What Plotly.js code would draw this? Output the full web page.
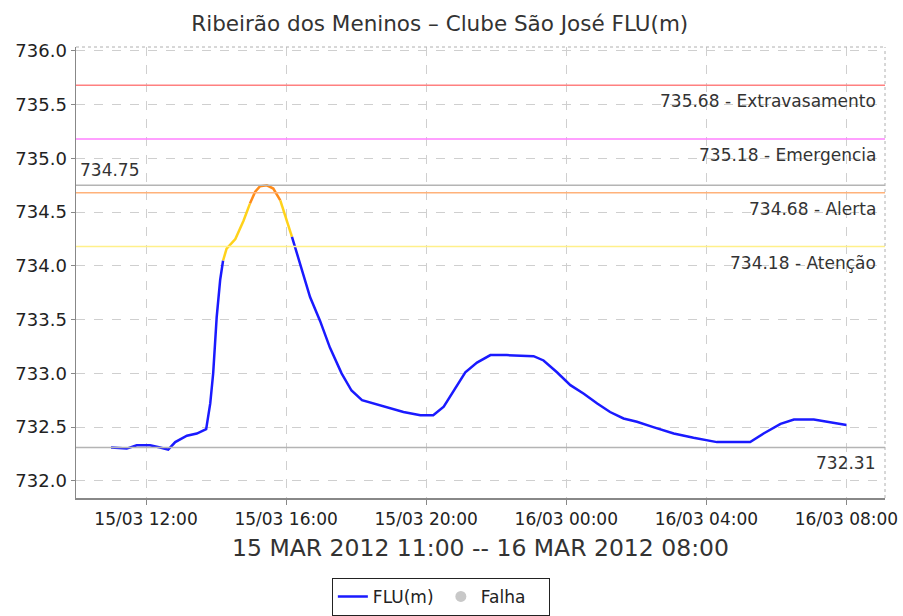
<!DOCTYPE html>
<html>
<head>
<meta charset="utf-8">
<script src="https://cdn.plot.ly/plotly-3.0.1.min.js"></script>
<style>html,body{margin:0;padding:0;background:#fff;}#chart{width:903px;height:616px;}</style>
</head>
<body>
<div id="chart"></div>
<script>
// ---- data ----
const times = [
  "2012-03-15 11:00","2012-03-15 11:27","2012-03-15 11:44","2012-03-15 12:07","2012-03-15 12:24",
  "2012-03-15 12:38","2012-03-15 12:50","2012-03-15 13:10","2012-03-15 13:27","2012-03-15 13:43",
  "2012-03-15 13:50","2012-03-15 13:55","2012-03-15 14:01","2012-03-15 14:07","2012-03-15 14:12",
  "2012-03-15 14:18","2012-03-15 14:33","2012-03-15 14:47","2012-03-15 14:58","2012-03-15 15:07",
  "2012-03-15 15:15","2012-03-15 15:27","2012-03-15 15:38","2012-03-15 15:50","2012-03-15 16:01",
  "2012-03-15 16:10","2012-03-15 16:24","2012-03-15 16:41","2012-03-15 16:58","2012-03-15 17:15",
  "2012-03-15 17:35","2012-03-15 17:52","2012-03-15 18:10","2012-03-15 18:41","2012-03-15 19:21",
  "2012-03-15 19:50","2012-03-15 20:12","2012-03-15 20:30","2012-03-15 20:47","2012-03-15 21:07",
  "2012-03-15 21:27","2012-03-15 21:50","2012-03-15 22:18","2012-03-15 23:04","2012-03-15 23:21",
  "2012-03-15 23:44","2012-03-16 00:07","2012-03-16 00:30","2012-03-16 00:53","2012-03-16 01:15",
  "2012-03-16 01:38","2012-03-16 02:01","2012-03-16 02:29","2012-03-16 03:04","2012-03-16 03:38",
  "2012-03-16 04:18","2012-03-16 05:15","2012-03-16 05:38","2012-03-16 06:07","2012-03-16 06:30",
  "2012-03-16 07:04","2012-03-16 07:27","2012-03-16 08:00"
];
const levels = [
  732.31,732.30,732.33,732.33,732.31,
  732.29,732.36,732.42,732.44,732.48,
  732.72,733.00,733.52,733.87,734.05,
  734.16,734.25,734.42,734.58,734.69,
  734.74,734.75,734.72,734.61,734.42,
  734.27,734.02,733.71,733.49,733.24,
  733.00,732.84,732.75,732.70,732.64,
  732.61,732.61,732.69,732.84,733.01,
  733.10,733.17,733.17,733.16,733.12,
  733.01,732.89,732.81,732.72,732.64,
  732.58,732.55,732.50,732.44,732.40,
  732.36,732.36,732.44,732.53,732.57,
  732.57,732.55,732.52
];
const thresholdValues = [735.68, 735.18, 734.68, 734.18];
const thresholdNames = ["Extravasamento", "Emergencia", "Alerta", "Atenção"];
const maxValue = 734.75;
const minValue = 732.31;
const tickTimes = ["2012-03-15 12:00","2012-03-15 16:00","2012-03-15 20:00","2012-03-16 00:00","2012-03-16 04:00","2012-03-16 08:00"];
const tickLabels = ["15/03 12:00","15/03 16:00","15/03 20:00","16/03 00:00","16/03 04:00","16/03 08:00"];
const yTicks = [732.0,732.5,733.0,733.5,734.0,734.5,735.0,735.5,736.0];

// ---- styling ----
const thresholdColors = ["#ff8080", "#ff80ff", "#ffb27a", "#fff08a"];
const segments = [ // [startIndex, endIndex, color]
  [0, 14, "#1a1aff"],
  [14, 18, "#ffd21a"],
  [18, 23, "#ff8c1a"],
  [23, 25, "#ffd21a"],
  [25, times.length - 1, "#1a1aff"]
];
const font = "DejaVu Sans, Verdana, sans-serif";

const traces = segments.map((s, i) => ({
  type: "scatter", mode: "lines",
  x: times.slice(s[0], s[1] + 1),
  y: levels.slice(s[0], s[1] + 1),
  line: {color: s[2], width: 2.5},
  name: "FLU(m)",
  showlegend: i === 0,
  hoverinfo: "x+y"
}));
traces.push({
  type: "scatter", mode: "markers",
  x: [null], y: [null], name: "Falha",
  marker: {color: "#c8c8c8", size: 11, symbol: "circle"},
  showlegend: true
});

const shapes = [];
const annotations = [];
const annFont = {family: font, size: 17, color: "#333"};
thresholdValues.forEach((v, i) => {
  shapes.push({type: "line", xref: "paper", yref: "y", x0: 0, x1: 1, y0: v, y1: v,
    line: {color: thresholdColors[i], width: 1.5}});
  annotations.push({xref: "paper", yref: "y", x: 1, y: v, xanchor: "right", yanchor: "top",
    xshift: -7, yshift: -4, showarrow: false, text: v.toFixed(2) + " - " + thresholdNames[i],
    font: annFont});
});
shapes.push({type: "line", xref: "paper", yref: "y", x0: 0, x1: 1, y0: maxValue, y1: maxValue,
  line: {color: "#b4b4b4", width: 1.5}});
shapes.push({type: "line", xref: "paper", yref: "y", x0: 0, x1: 1, y0: minValue, y1: minValue,
  line: {color: "#b4b4b4", width: 1.5}});
annotations.push({xref: "paper", yref: "y", x: 0, y: maxValue, xanchor: "left", yanchor: "bottom",
  xshift: 2, yshift: 3, showarrow: false, text: maxValue.toFixed(2), font: annFont});
annotations.push({xref: "paper", yref: "y", x: 1, y: minValue, xanchor: "right", yanchor: "top",
  xshift: -8, yshift: -4, showarrow: false, text: minValue.toFixed(2), font: annFont});
// top/right frame
shapes.push({type: "line", xref: "paper", yref: "paper", x0: 0, x1: 1, y0: 1, y1: 1,
  line: {color: "#b0b0b0", width: 1, dash: "dot"}});
shapes.push({type: "line", xref: "paper", yref: "paper", x0: 1, x1: 1, y0: 0, y1: 1,
  line: {color: "#b0b0b0", width: 1, dash: "dot"}});

const layout = {
  width: 903, height: 616,
  margin: {l: 76, r: 18, t: 47, b: 118, autoexpand: false},
  paper_bgcolor: "#fff", plot_bgcolor: "#fff",
  font: {family: font, color: "#333"},
  title: {text: "Ribeirão dos Meninos – Clube São José FLU(m)", x: 0.487, xanchor: "center",
    y: 0.962, yanchor: "middle", font: {family: font, size: 21.5, color: "#333"}},
  xaxis: {
    type: "date",
    range: ["2012-03-15 10:00", "2012-03-16 09:06"],
    tickvals: tickTimes, ticktext: tickLabels,
    showgrid: true, gridcolor: "#cfcfcf", griddash: "dash", gridwidth: 1,
    showline: true, linecolor: "#888", linewidth: 1.5,
    ticks: "outside", ticklen: 5, tickcolor: "#888",
    tickfont: {family: font, size: 17, color: "#222"},
    zeroline: false, automargin: false,
    title: {text: "15 MAR 2012 11:00 -- 16 MAR 2012 08:00", standoff: 11,
      font: {family: font, size: 23.5, color: "#333"}}
  },
  yaxis: {
    range: [731.84, 736.037],
    tickvals: yTicks, ticktext: yTicks.map(v => v.toFixed(1)),
    showgrid: true, gridcolor: "#cfcfcf", griddash: "dash", gridwidth: 1,
    showline: true, linecolor: "#888", linewidth: 1.5,
    ticks: "outside", ticklen: 4, tickcolor: "#888",
    tickfont: {family: font, size: 18, color: "#222"},
    zeroline: false, automargin: false
  },
  legend: {
    orientation: "h", x: 0.451, xanchor: "center", y: -0.177, yanchor: "top",
    bordercolor: "#222", borderwidth: 1, bgcolor: "#fff",
    font: {family: font, size: 17, color: "#222"},
    itemwidth: 30, entrywidth: 63
  },
  shapes: shapes,
  annotations: annotations,
  showlegend: true
};

Plotly.newPlot("chart", traces, layout, {displayModeBar: false, staticPlot: true});
</script>
</body>
</html>
